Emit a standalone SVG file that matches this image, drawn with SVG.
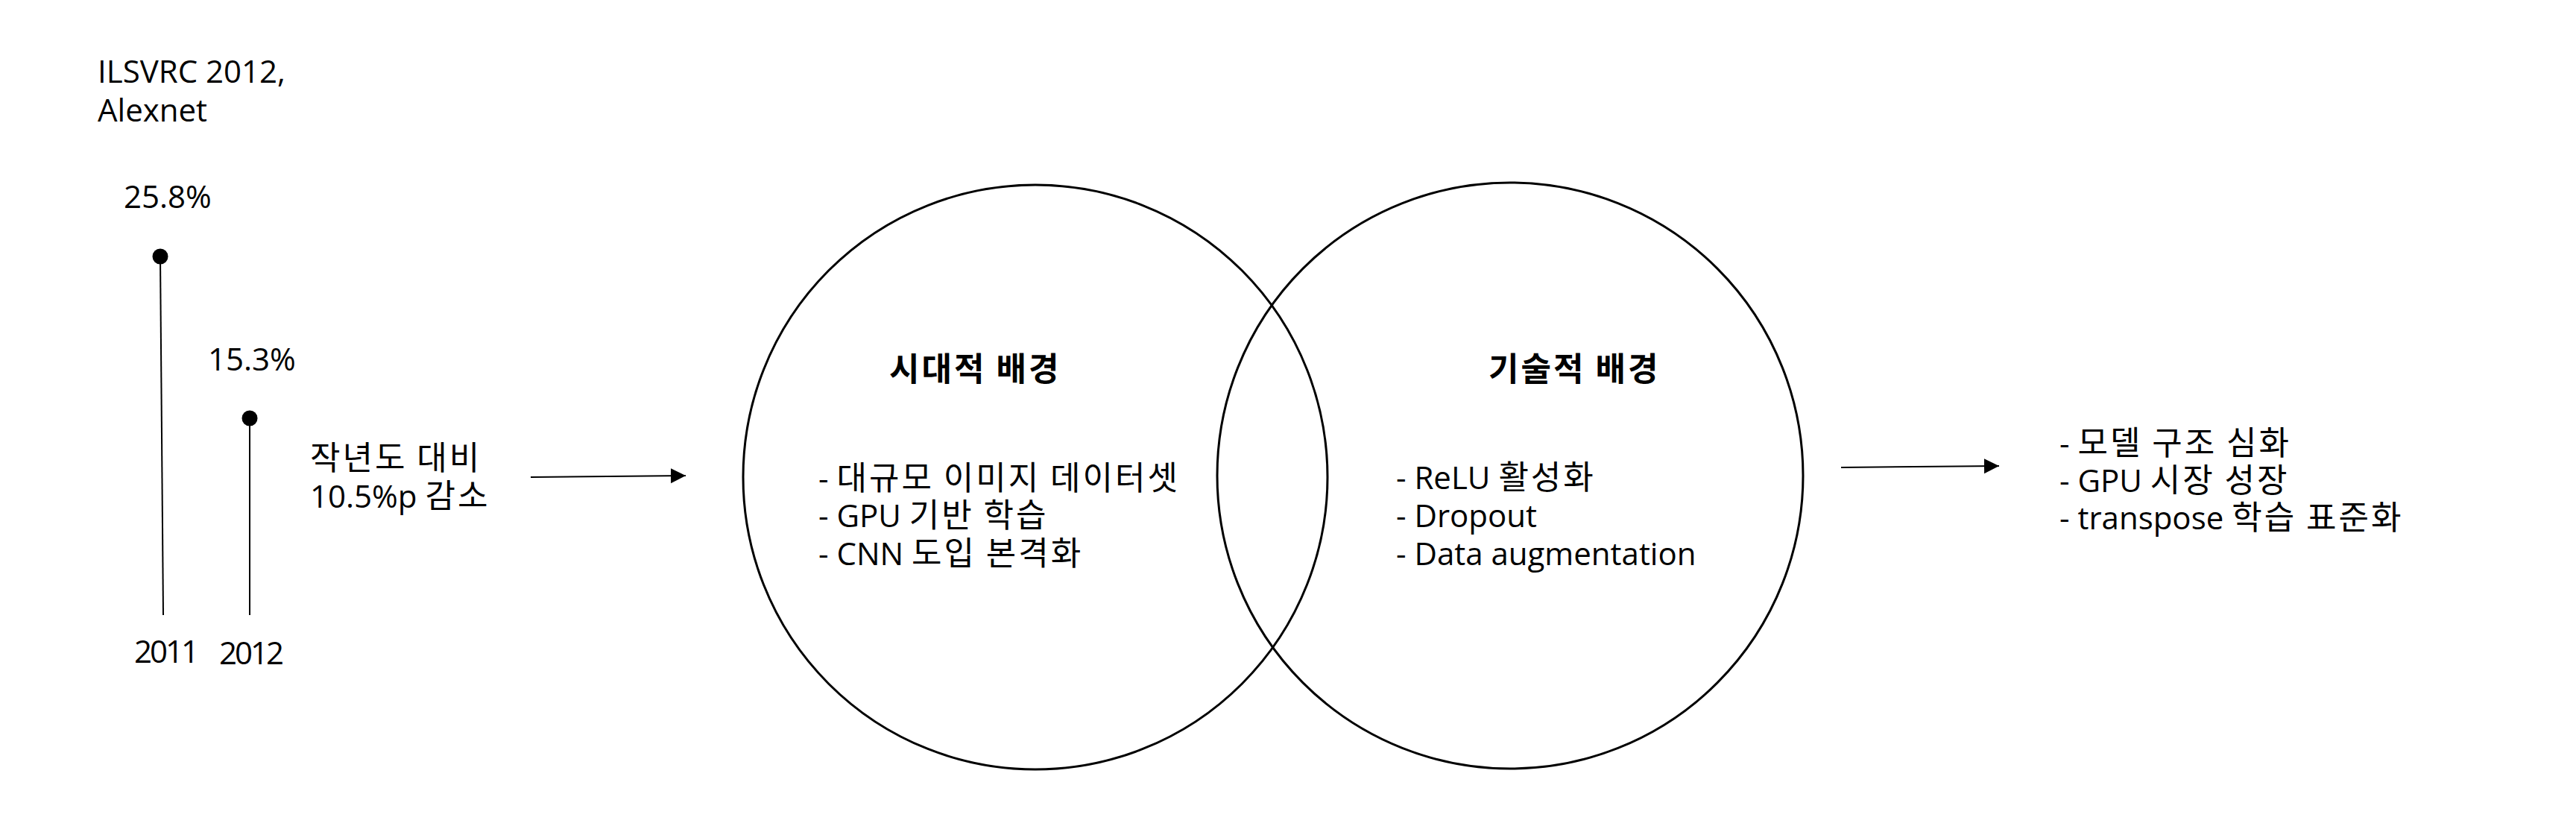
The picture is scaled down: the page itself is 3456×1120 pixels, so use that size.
<svg xmlns="http://www.w3.org/2000/svg" width="3456" height="1120" viewBox="0 0 3456 1120">
<style>
  text { font-family: "Open Sans", "Noto Sans CJK KR", sans-serif; font-size: 42px; fill: #000; }
  .k { font-family: "Noto Sans CJK KR", sans-serif; font-size: 44px; letter-spacing: 3px; }
  .hdr { font-family: "Noto Sans CJK KR", sans-serif; font-size: 44px; font-weight: bold; letter-spacing: 3px; }
  .yr { letter-spacing: -3px; }
  .ring { fill: none; stroke: #000; stroke-width: 3; }
  .stem { stroke: #000; stroke-width: 2; fill: none; }
  .dot { fill: #000; }
  .conn { stroke: #000; stroke-width: 2; fill: none; marker-end: url(#arrow); }
</style>
<defs>
  <marker id="arrow" viewBox="0 0 20 20" refX="20" refY="10" markerWidth="20" markerHeight="21" markerUnits="userSpaceOnUse" orient="auto">
    <path d="M0,0 L20,10 L0,20 Z" fill="#000"/>
  </marker>
</defs>
<rect width="3456" height="1120" fill="#fff"/>

<g id="chart">
  <text x="131" y="111">ILSVRC 2012,</text>
  <text x="131" y="163">Alexnet</text>
  <text x="166" y="279">25.8%</text>
  <line class="stem" x1="215" y1="344" x2="219" y2="825"/>
  <circle class="dot" cx="215" cy="344" r="10.5"/>
  <text x="279" y="497">15.3%</text>
  <line class="stem" x1="335" y1="561" x2="335" y2="825"/>
  <circle class="dot" cx="335" cy="561" r="10.5"/>
  <text class="yr" x="180" y="889">2011</text>
  <text class="yr" x="294" y="891">2012</text>
</g>

<g id="change-label">
  <text x="416" y="630"><tspan class="k">작년도 대비</tspan></text>
  <text x="416" y="681">10.5%p <tspan class="k">감소</tspan></text>
</g>

<g id="era-background">
  <circle class="ring" cx="1389" cy="640" r="392"/>
  <text class="hdr" x="1193" y="511">시대적 배경</text>
  <text x="1098" y="657">- <tspan class="k">대규모 이미지 데이터셋</tspan></text>
  <text x="1098" y="707">- GPU <tspan class="k">기반 학습</tspan></text>
  <text x="1098" y="758">- CNN <tspan class="k">도입 본격화</tspan></text>
</g>

<g id="tech-background">
  <circle class="ring" cx="2026" cy="638" r="393"/>
  <text class="hdr" x="1997" y="511">기술적 배경</text>
  <text x="1873" y="656">- ReLU <tspan class="k">활성화</tspan></text>
  <text x="1873" y="707">- Dropout</text>
  <text x="1873" y="758">- Data augmentation</text>
</g>

<g id="outcome">
  <text x="2763" y="610">- <tspan class="k">모델 구조 심화</tspan></text>
  <text x="2763" y="660">- GPU <tspan class="k">시장 성장</tspan></text>
  <text x="2763" y="710">- transpose <tspan class="k">학습 표준화</tspan></text>
</g>

<g id="connectors">
  <line class="conn" x1="712" y1="640" x2="920" y2="638"/>
  <line class="conn" x1="2470" y1="627" x2="2682" y2="625"/>
</g>
</svg>
